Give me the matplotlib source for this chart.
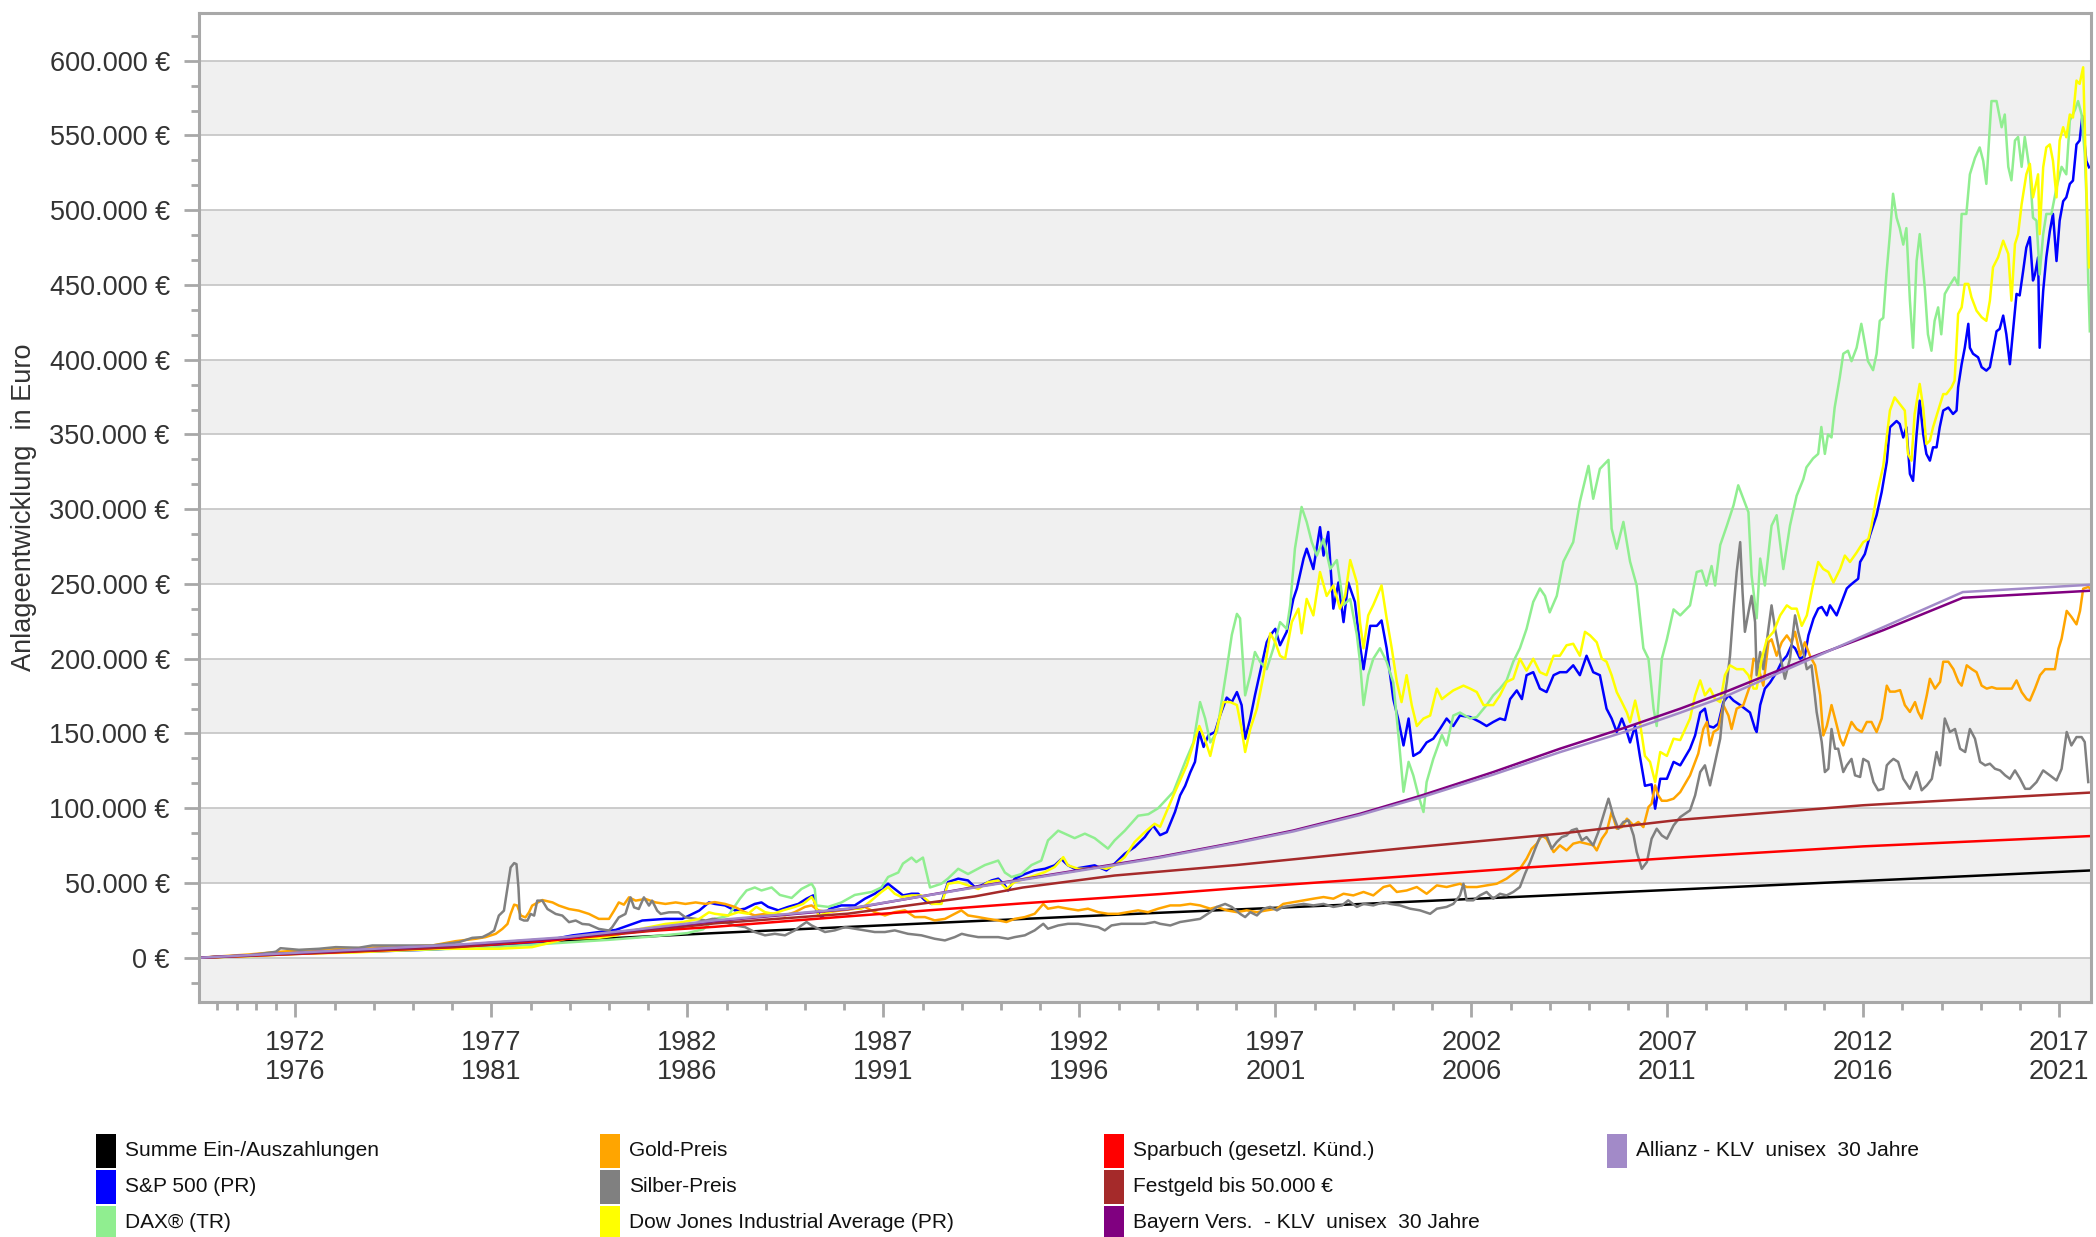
import numpy as np
import matplotlib
matplotlib.use("Agg")
import matplotlib.pyplot as plt
from matplotlib.patches import Rectangle
from matplotlib.ticker import FixedLocator, FuncFormatter, MultipleLocator

plt.rcParams['font.family'] = ['Liberation Sans', 'DejaVu Sans']

# ---------------- data (year, value in thousand EUR) ----------------
summe = [(1969.54, 0), (1976.17, 8.0), (1982.7, 16.5), (1989.33, 24.5), (1994.06, 30.1),
         (1997.63, 34.1), (2007.33, 45.7), (2017.81, 58.4)]

sparbuch = [(1969.54, 0), (1973.0, 3.5), (1976.17, 7.2), (1978.5, 11.5), (1981.05, 17.9),
            (1982.7, 20.7), (1986.0, 27.5), (1990.56, 36.4), (1994.06, 42.6), (1996.0, 46.5),
            (2000.18, 54.2), (2003.5, 60.5), (2007.33, 67.1), (2012.0, 74.5), (2017.81, 81.4)]

festgeld = [(1969.54, 0), (1973.0, 3.8), (1976.17, 7.4), (1980.6, 17.1), (1982.7, 23.0),
            (1986.1, 29.5), (1989.33, 41.0), (1990.56, 47.0), (1992.9, 55.0), (1996.0, 62.0),
            (2000.18, 73.0), (2004.26, 83.0), (2007.33, 92.3), (2012.0, 102.0), (2014.34, 105.5),
            (2017.81, 110.5)]

bayern = [(1969.54, 0), (1972.94, 4.4), (1976.17, 8.5), (1978.9, 13.3), (1980.6, 18.2),
          (1982.7, 24.5), (1986.1, 32.5), (1989.33, 47.3), (1992.9, 62.5), (1994.06, 67.5),
          (1995.97, 77.0), (1997.46, 85.1), (1999.16, 96.3), (2000.69, 108.2), (2002.56, 124.2),
          (2004.26, 139.8), (2005.97, 154.3), (2007.33, 166.6), (2008.5, 178.0), (2010.54, 199.6),
          (2012.5, 219.0), (2014.54, 240.8), (2017.81, 245.5)]

allianz = [(1969.54, 0), (1972.94, 4.6), (1976.17, 8.8), (1978.9, 13.8), (1980.6, 18.6),
           (1982.7, 25.0), (1986.1, 32.8), (1989.33, 47.0), (1992.9, 62.0), (1994.06, 67.0),
           (1995.97, 76.5), (1997.46, 84.5), (1999.16, 95.5), (2000.69, 107.0), (2002.56, 122.5),
           (2004.26, 137.5), (2005.97, 151.5), (2007.33, 163.9), (2008.5, 175.0), (2010.54, 198.5),
           (2012.5, 221.0), (2014.54, 244.6), (2017.81, 249.5)]

dax = [(1969.54, 0), (1971.0, 1.5), (1972.5, 3.0), (1974.0, 4.5), (1975.5, 5.5), (1977.0, 7.0),
       (1978.5, 9.5), (1980.0, 12.0), (1981.0, 14.0), (1982.0, 16.5), (1982.4, 19.0),
       (1982.7, 26), (1983.04, 28), (1983.34, 39.5), (1983.51, 45), (1983.72, 47), (1983.89, 45),
       (1984.15, 47), (1984.36, 42), (1984.66, 40), (1984.91, 46), (1985.17, 49.5), (1985.25, 46),
       (1985.29, 35), (1985.59, 34), (1985.93, 37), (1986.27, 42), (1986.7, 44), (1986.95, 47),
       (1987.12, 54), (1987.38, 57), (1987.5, 63), (1987.72, 67), (1987.84, 64), (1988.01, 67),
       (1988.19, 47), (1988.48, 49.5), (1988.65, 53), (1988.91, 59.5), (1989.16, 56), (1989.59, 62),
       (1989.93, 65), (1990.1, 57), (1990.27, 54), (1990.52, 56), (1990.78, 62), (1991.03, 65),
       (1991.2, 78.5), (1991.46, 85), (1991.71, 82), (1991.88, 80), (1992.14, 83), (1992.39, 80),
       (1992.73, 73), (1992.9, 78.5), (1993.16, 85), (1993.5, 95), (1993.76, 96), (1994.01, 100),
       (1994.4, 111), (1994.7, 131), (1994.91, 144), (1995.08, 171), (1995.21, 160), (1995.34, 144),
       (1995.51, 151), (1995.76, 193), (1995.89, 216), (1996.02, 230), (1996.1, 227), (1996.23, 175.5),
       (1996.36, 189), (1996.48, 204.5), (1996.61, 198), (1996.78, 193), (1996.95, 207),
       (1997.12, 224.5), (1997.29, 220), (1997.38, 236), (1997.5, 273.6), (1997.67, 301.5),
       (1997.8, 291.5), (1997.93, 278), (1998.06, 269), (1998.23, 280), (1998.4, 260), (1998.57, 266),
       (1998.74, 236), (1998.91, 240), (1999.08, 216), (1999.16, 198), (1999.25, 169), (1999.37, 189),
       (1999.5, 200), (1999.67, 207), (1999.84, 198), (2000.01, 184), (2000.14, 149), (2000.27, 111),
       (2000.4, 131), (2000.52, 122), (2000.65, 108.6), (2000.78, 97.5), (2000.86, 117.5),
       (2001.03, 133), (2001.25, 149), (2001.37, 142), (2001.54, 162), (2001.71, 164), (2001.97, 160),
       (2002.14, 161), (2002.39, 169), (2002.56, 175.5), (2002.73, 180), (2002.9, 185.5),
       (2003.07, 198), (2003.24, 207), (2003.41, 220), (2003.58, 238), (2003.75, 247), (2003.88, 242),
       (2004.0, 231), (2004.18, 242), (2004.35, 265), (2004.6, 278), (2004.77, 305), (2004.99, 329),
       (2005.11, 307), (2005.28, 327), (2005.5, 333), (2005.58, 287), (2005.71, 273.6),
       (2005.88, 291.5), (2006.05, 265), (2006.22, 249), (2006.39, 207), (2006.52, 200),
       (2006.65, 166.6), (2006.73, 155), (2006.86, 200), (2006.99, 213), (2007.16, 233),
       (2007.33, 229), (2007.58, 235.7), (2007.75, 258), (2007.88, 259), (2008.0, 249),
       (2008.13, 262), (2008.22, 249), (2008.35, 276), (2008.52, 289), (2008.69, 302.6),
       (2008.81, 316), (2008.94, 307), (2009.07, 298), (2009.15, 256), (2009.28, 227), (2009.37, 267),
       (2009.49, 249), (2009.66, 289), (2009.79, 296), (2009.96, 260), (2010.13, 289), (2010.3, 309),
       (2010.47, 320), (2010.55, 328), (2010.72, 334), (2010.85, 337), (2010.93, 355), (2011.02, 337),
       (2011.1, 350), (2011.19, 348), (2011.27, 368), (2011.4, 388), (2011.49, 404), (2011.61, 406),
       (2011.7, 399), (2011.83, 408), (2011.95, 424), (2012.0, 417), (2012.12, 399), (2012.25, 393),
       (2012.34, 404), (2012.42, 426), (2012.51, 428), (2012.59, 457), (2012.68, 484), (2012.76, 511),
       (2012.85, 495), (2012.93, 488), (2013.02, 477), (2013.1, 488), (2013.19, 439.5), (2013.27, 408),
       (2013.36, 466), (2013.44, 484), (2013.57, 448), (2013.65, 417), (2013.74, 406), (2013.82, 426),
       (2013.91, 435), (2013.99, 417), (2014.08, 444), (2014.21, 450), (2014.33, 455), (2014.42, 450),
       (2014.51, 497.5), (2014.63, 497.5), (2014.72, 524), (2014.85, 535), (2014.97, 542),
       (2015.06, 533), (2015.14, 517.6), (2015.27, 573), (2015.4, 573), (2015.53, 555.5),
       (2015.61, 564), (2015.7, 529), (2015.78, 520), (2015.87, 546.6), (2015.95, 549), (2016.04, 529),
       (2016.12, 549), (2016.25, 526), (2016.33, 495), (2016.42, 493), (2016.5, 457), (2016.59, 484),
       (2016.67, 497.5), (2016.8, 497.5), (2016.93, 515), (2017.06, 529), (2017.18, 524),
       (2017.27, 560), (2017.4, 567), (2017.48, 573), (2017.57, 564), (2017.65, 537.6),
       (2017.69, 511), (2017.74, 453), (2017.78, 419)]

sp500 = [(1969.54, 0), (1971.0, 1.5), (1972.5, 3.5), (1974.0, 4.2), (1975.5, 5.5), (1977.19, 8.2),
         (1978.0, 9.5), (1979.06, 14.9), (1980.17, 18.6), (1980.85, 24.9), (1981.44, 26),
         (1981.87, 26), (1982.3, 31.5), (1982.55, 37), (1982.7, 36), (1982.96, 35), (1983.21, 31.7),
         (1983.47, 32.8), (1983.72, 36), (1983.89, 37), (1984.06, 34), (1984.32, 31.7), (1984.57, 34),
         (1984.83, 36), (1985.04, 39.5), (1985.21, 41.7), (1985.29, 31.7), (1985.42, 27),
         (1985.63, 32.8), (1985.93, 35), (1986.27, 35), (1986.53, 39.5), (1986.78, 42.8),
         (1986.95, 46), (1987.12, 49.5), (1987.29, 46), (1987.5, 41.7), (1987.72, 42.8),
         (1987.89, 42.8), (1988.06, 38.4), (1988.23, 36), (1988.48, 37), (1988.65, 50.6),
         (1988.91, 52.9), (1989.16, 51.7), (1989.33, 47.3), (1989.5, 48.4), (1989.76, 51.7),
         (1989.93, 52.9), (1990.1, 48.4), (1990.18, 45), (1990.35, 52.9), (1990.61, 56),
         (1990.86, 58.4), (1991.12, 59.5), (1991.37, 61.8), (1991.54, 66), (1991.71, 61.8),
         (1991.88, 59.5), (1992.14, 60.7), (1992.39, 61.8), (1992.69, 58.4), (1992.9, 62.9),
         (1993.16, 69.6), (1993.41, 74), (1993.67, 80.7), (1993.88, 88.5), (1994.06, 82),
         (1994.23, 84), (1994.44, 97.5), (1994.57, 108.6), (1994.7, 115), (1994.83, 124),
         (1994.95, 131), (1995.06, 151), (1995.17, 141), (1995.29, 148.7), (1995.46, 151),
         (1995.59, 162), (1995.76, 174), (1995.89, 171), (1996.02, 177.7), (1996.14, 169),
         (1996.23, 146.5), (1996.36, 160), (1996.48, 175.5), (1996.61, 191), (1996.78, 211),
         (1996.87, 215.6), (1997.0, 220), (1997.12, 209), (1997.29, 218), (1997.46, 240),
         (1997.55, 247), (1997.72, 267), (1997.8, 273.6), (1997.97, 260), (1998.14, 288),
         (1998.23, 269), (1998.35, 284.8), (1998.48, 233.5), (1998.61, 251), (1998.74, 224.5),
         (1998.86, 251), (1999.03, 238), (1999.16, 209), (1999.25, 193), (1999.42, 222),
         (1999.59, 222), (1999.71, 225.6), (1999.84, 207), (2000.01, 173), (2000.14, 159),
         (2000.27, 142), (2000.4, 160), (2000.52, 135), (2000.69, 137.6), (2000.86, 144),
         (2001.03, 146.5), (2001.2, 153), (2001.37, 160), (2001.54, 155), (2001.71, 162),
         (2001.97, 161), (2002.22, 157.7), (2002.39, 155), (2002.56, 157.7), (2002.73, 160),
         (2002.86, 159), (2002.99, 173), (2003.16, 178.8), (2003.29, 173), (2003.41, 189),
         (2003.58, 191), (2003.75, 180), (2003.92, 177.7), (2004.1, 189), (2004.26, 191),
         (2004.43, 191), (2004.6, 195.6), (2004.77, 189), (2004.94, 202), (2005.11, 191),
         (2005.28, 189), (2005.45, 166.6), (2005.58, 160), (2005.71, 151), (2005.84, 160),
         (2005.97, 151), (2006.05, 144), (2006.18, 155), (2006.3, 135), (2006.43, 115), (2006.6, 116),
         (2006.69, 99.7), (2006.82, 119.7), (2006.99, 119.7), (2007.16, 131), (2007.33, 128.7),
         (2007.58, 139.8), (2007.71, 148.7), (2007.84, 164), (2007.96, 166.6), (2008.05, 155),
         (2008.18, 154), (2008.3, 156.5), (2008.43, 171), (2008.56, 175.5), (2008.69, 172),
         (2008.86, 169), (2008.98, 166.6), (2009.11, 164), (2009.24, 153), (2009.28, 151),
         (2009.37, 169), (2009.49, 180), (2009.62, 184), (2009.79, 191), (2009.92, 198),
         (2010.05, 202), (2010.17, 209), (2010.26, 207), (2010.39, 200), (2010.51, 202),
         (2010.6, 215.6), (2010.73, 226.8), (2010.85, 233.5), (2010.94, 234.6), (2011.07, 229),
         (2011.15, 235.7), (2011.32, 229), (2011.45, 238), (2011.58, 247), (2011.66, 249),
         (2011.75, 251), (2011.87, 253.5), (2011.92, 264.7), (2012.04, 270), (2012.17, 282.5),
         (2012.34, 296), (2012.47, 311.5), (2012.6, 331.6), (2012.68, 354.8), (2012.85, 359),
         (2012.93, 357), (2013.02, 348), (2013.1, 354.8), (2013.19, 323.6), (2013.27, 319),
         (2013.36, 350), (2013.44, 372.6), (2013.53, 350), (2013.61, 337), (2013.7, 332.5),
         (2013.78, 341.4), (2013.87, 341.4), (2013.95, 354.8), (2014.04, 366), (2014.17, 368),
         (2014.29, 363.7), (2014.38, 366), (2014.42, 381.5), (2014.51, 397), (2014.59, 408),
         (2014.68, 424), (2014.72, 408), (2014.8, 404), (2014.93, 401.6), (2015.02, 395),
         (2015.14, 392.7), (2015.23, 395), (2015.31, 406), (2015.4, 419), (2015.48, 420.6),
         (2015.57, 429.5), (2015.65, 417), (2015.74, 397), (2015.82, 419), (2015.91, 444),
         (2015.99, 443), (2016.08, 459.6), (2016.16, 475), (2016.25, 482), (2016.33, 453),
         (2016.38, 457), (2016.46, 468.5), (2016.5, 408), (2016.59, 446), (2016.67, 468.5),
         (2016.76, 486), (2016.84, 497.5), (2016.93, 466), (2017.01, 493), (2017.1, 506),
         (2017.18, 508.6), (2017.27, 517.6), (2017.35, 519.8), (2017.44, 544), (2017.52, 546.6),
         (2017.59, 563), (2017.65, 544), (2017.69, 533), (2017.76, 528.7)]

dow = [(1969.54, 0), (1971.0, 1.2), (1972.09, 2.7), (1973.5, 3.5), (1974.64, 4.9), (1975.66, 6.0),
       (1977.19, 6.0), (1978.04, 7.1), (1978.9, 12.7), (1979.74, 13.3), (1980.17, 14.9),
       (1980.6, 18.2), (1981.44, 22.6), (1981.87, 23.8), (1982.3, 26), (1982.55, 30.4),
       (1982.7, 29.4), (1983.04, 28.3), (1983.3, 30.5), (1983.55, 29.4), (1983.76, 34),
       (1983.98, 30.5), (1984.19, 29.4), (1984.44, 31.7), (1984.74, 34), (1984.95, 36),
       (1985.17, 40.6), (1985.25, 37), (1985.34, 28.3), (1985.51, 29.4), (1985.76, 31.7),
       (1986.1, 32.8), (1986.44, 32.8), (1986.7, 38.4), (1986.95, 44), (1987.12, 47.3),
       (1987.29, 42.8), (1987.46, 40.6), (1987.72, 41.7), (1987.97, 41.7), (1988.23, 36),
       (1988.48, 36), (1988.65, 49.5), (1988.91, 50.6), (1989.16, 48.4), (1989.42, 46),
       (1989.67, 50.6), (1989.93, 51.7), (1990.14, 46), (1990.35, 50.6), (1990.61, 52.9),
       (1990.86, 55), (1991.12, 57.3), (1991.37, 60.7), (1991.59, 67.3), (1991.71, 61.8),
       (1991.97, 59.5), (1992.22, 59.5), (1992.48, 60.7), (1992.69, 59.5), (1992.9, 61.8),
       (1993.16, 67.3), (1993.41, 77.4), (1993.67, 84), (1993.92, 89.6), (1994.06, 87.6),
       (1994.4, 108.6), (1994.74, 128.7), (1994.95, 146.5), (1995.06, 155), (1995.21, 145.6),
       (1995.34, 135), (1995.46, 148.7), (1995.68, 171), (1995.85, 171), (1996.02, 169),
       (1996.14, 153), (1996.23, 137.6), (1996.36, 153), (1996.53, 166.6), (1996.7, 189),
       (1996.87, 217), (1997.0, 211), (1997.12, 202), (1997.25, 200), (1997.42, 224.5),
       (1997.59, 233.5), (1997.67, 217), (1997.8, 240), (1997.97, 229), (1998.14, 258),
       (1998.31, 242), (1998.48, 249), (1998.65, 233.5), (1998.78, 242), (1998.91, 266),
       (1999.08, 251), (1999.16, 224.5), (1999.25, 207), (1999.37, 229), (1999.5, 236),
       (1999.71, 249), (1999.84, 227), (1999.97, 207), (2000.1, 184.5), (2000.22, 171),
       (2000.35, 189), (2000.48, 169), (2000.61, 155), (2000.78, 160), (2000.95, 162),
       (2001.12, 180), (2001.25, 173), (2001.37, 175.5), (2001.54, 178.8), (2001.8, 182),
       (2001.97, 180), (2002.14, 177.7), (2002.31, 169), (2002.56, 169), (2002.73, 175.5),
       (2002.9, 184.5), (2003.07, 186.6), (2003.24, 200), (2003.41, 192), (2003.58, 200),
       (2003.75, 191), (2003.92, 189), (2004.1, 202), (2004.26, 202), (2004.43, 209),
       (2004.6, 210), (2004.77, 202), (2004.9, 218), (2005.03, 215.6), (2005.2, 211),
       (2005.33, 200), (2005.45, 198), (2005.58, 189), (2005.71, 177.7), (2005.84, 171),
       (2005.97, 164), (2006.05, 157.7), (2006.18, 172), (2006.3, 157.7), (2006.43, 135),
       (2006.56, 131), (2006.69, 117.5), (2006.82, 137.6), (2006.99, 135), (2007.16, 146.5),
       (2007.33, 145.6), (2007.58, 160), (2007.71, 175.5), (2007.84, 185.5), (2007.96, 175.5),
       (2008.09, 180), (2008.22, 173), (2008.35, 171), (2008.47, 189), (2008.6, 195.6),
       (2008.77, 193), (2008.94, 193), (2009.07, 189), (2009.2, 180), (2009.28, 180),
       (2009.41, 200), (2009.54, 213), (2009.71, 218), (2009.88, 229), (2010.05, 235.7),
       (2010.17, 233.5), (2010.3, 233.5), (2010.43, 222), (2010.56, 229), (2010.73, 251),
       (2010.85, 264.7), (2010.98, 260), (2011.11, 258), (2011.24, 251), (2011.41, 260),
       (2011.53, 269), (2011.66, 264.7), (2011.83, 271), (2012.0, 278), (2012.13, 280),
       (2012.21, 289), (2012.34, 309), (2012.51, 329), (2012.68, 366), (2012.8, 374.8),
       (2012.93, 370.4), (2013.06, 366), (2013.14, 337), (2013.23, 332.5), (2013.31, 363.7),
       (2013.44, 383.8), (2013.53, 368), (2013.61, 343.6), (2013.7, 345.9), (2013.78, 354.8),
       (2013.91, 366), (2014.04, 377), (2014.12, 377), (2014.25, 381.5), (2014.33, 386),
       (2014.42, 430.6), (2014.51, 435), (2014.59, 450.7), (2014.68, 450.7), (2014.76, 441.8),
       (2014.89, 432.8), (2015.02, 428.4), (2015.14, 426), (2015.23, 439.5), (2015.31, 461.8),
       (2015.44, 468.5), (2015.57, 479.6), (2015.7, 470.7), (2015.78, 439.5), (2015.87, 477.4),
       (2015.95, 484), (2016.04, 504), (2016.16, 524), (2016.25, 531), (2016.33, 508.6),
       (2016.46, 524), (2016.5, 484), (2016.59, 528.7), (2016.67, 542), (2016.76, 544),
       (2016.84, 533), (2016.93, 508.6), (2017.01, 546.6), (2017.1, 555.5), (2017.18, 548.8),
       (2017.27, 564), (2017.35, 562), (2017.44, 586.7), (2017.52, 584.5), (2017.61, 595.6),
       (2017.69, 517.6), (2017.76, 461.8)]

gold = [(1969.54, 0), (1970.82, 2.2), (1971.5, 3.8), (1972.09, 4.9), (1973.11, 6.0), (1974.3, 7.1),
        (1975.49, 8.2), (1976.09, 11.1), (1976.6, 12.7), (1976.85, 13.8), (1977.11, 16),
        (1977.28, 19.3), (1977.41, 22.6), (1977.49, 29.3), (1977.58, 35.5), (1977.66, 34.9),
        (1977.75, 28.2), (1977.87, 27), (1977.96, 30.4), (1978.04, 34.9), (1978.3, 38.6),
        (1978.56, 37), (1978.72, 34.9), (1978.98, 32.6), (1979.23, 31.5), (1979.49, 29.3),
        (1979.74, 26), (1980.0, 26), (1980.13, 31.5), (1980.25, 37), (1980.38, 35.5),
        (1980.51, 40.4), (1980.68, 38.2), (1980.93, 39.3), (1981.19, 37), (1981.44, 36),
        (1981.7, 37), (1981.95, 36), (1982.21, 37), (1982.47, 36), (1982.64, 37), (1982.7, 37.2),
        (1982.96, 36), (1983.21, 34), (1983.47, 30.5), (1983.72, 28.3), (1983.98, 29.4),
        (1984.23, 29.4), (1984.49, 28.3), (1984.74, 30.5), (1985.0, 34), (1985.17, 35),
        (1985.34, 31.7), (1985.59, 30.5), (1985.93, 31.7), (1986.27, 32.8), (1986.53, 34),
        (1986.78, 30.5), (1987.04, 28.3), (1987.29, 30.5), (1987.55, 31.7), (1987.8, 27.2),
        (1988.06, 27.2), (1988.31, 25), (1988.57, 26), (1988.82, 29.4), (1988.99, 31.7),
        (1989.16, 28.3), (1989.42, 27.2), (1989.67, 26), (1989.93, 25), (1990.14, 23.9),
        (1990.35, 26), (1990.61, 27.2), (1990.86, 29.4), (1991.08, 36), (1991.2, 32.8),
        (1991.46, 34), (1991.71, 32.8), (1991.97, 31.7), (1992.22, 32.8), (1992.48, 30.5),
        (1992.73, 29.4), (1992.99, 29.4), (1993.24, 30.5), (1993.5, 31.7), (1993.75, 30.5),
        (1994.01, 32.8), (1994.32, 35), (1994.57, 35), (1994.83, 36), (1995.08, 35),
        (1995.34, 32.8), (1995.51, 34), (1995.76, 31.7), (1996.02, 30.5), (1996.27, 31.7),
        (1996.53, 30.5), (1996.78, 31.7), (1997.04, 32.8), (1997.2, 36), (1997.46, 37.2),
        (1997.72, 38.4), (1997.97, 39.5), (1998.23, 40.6), (1998.48, 39.5), (1998.74, 42.8),
        (1998.99, 41.7), (1999.25, 44), (1999.5, 41.7), (1999.76, 47.3), (1999.93, 48.4),
        (2000.1, 44), (2000.35, 45), (2000.61, 47.3), (2000.86, 42.8), (2001.12, 48.4),
        (2001.37, 47.3), (2001.54, 48.4), (2001.71, 49.5), (2001.88, 47.3), (2002.14, 47.3),
        (2002.39, 48.4), (2002.65, 49.5), (2002.9, 52.9), (2003.07, 56.2), (2003.24, 59.5),
        (2003.41, 66.2), (2003.54, 72.9), (2003.67, 76.3), (2003.8, 81.8), (2003.92, 79.6),
        (2004.1, 70.7), (2004.26, 75.2), (2004.43, 71.8), (2004.6, 76.3), (2004.77, 77.4),
        (2004.94, 76.3), (2005.11, 75.2), (2005.2, 71.8), (2005.33, 79.6), (2005.45, 84),
        (2005.58, 97.5), (2005.71, 86.3), (2005.84, 87.4), (2005.97, 93), (2006.14, 88.5),
        (2006.26, 90.8), (2006.39, 87.4), (2006.52, 100.8), (2006.6, 103), (2006.69, 115.3),
        (2006.77, 108.6), (2006.86, 105), (2006.99, 105), (2007.16, 106.4), (2007.33, 110.8),
        (2007.58, 122), (2007.71, 131), (2007.79, 136.5), (2007.92, 153), (2008.01, 157.7),
        (2008.09, 142), (2008.18, 151), (2008.3, 153), (2008.43, 169), (2008.56, 162),
        (2008.64, 153), (2008.77, 166.6), (2008.94, 169), (2009.11, 182), (2009.2, 200),
        (2009.28, 198), (2009.45, 182), (2009.58, 211), (2009.66, 213), (2009.79, 202),
        (2009.92, 211), (2010.05, 215.6), (2010.17, 211), (2010.26, 218), (2010.39, 202),
        (2010.51, 211), (2010.64, 202), (2010.77, 195.6), (2010.9, 175.5), (2010.98, 148.7),
        (2011.07, 155), (2011.19, 169), (2011.28, 160), (2011.41, 146.5), (2011.49, 142),
        (2011.58, 148.7), (2011.7, 157.7), (2011.83, 153), (2011.96, 151), (2012.09, 157.7),
        (2012.21, 157.7), (2012.34, 151), (2012.47, 160), (2012.6, 182), (2012.68, 178),
        (2012.81, 178), (2012.94, 179), (2013.06, 169), (2013.19, 164.4), (2013.32, 171),
        (2013.4, 164.4), (2013.49, 160), (2013.62, 175.5), (2013.7, 186.6), (2013.83, 180),
        (2013.96, 184.5), (2014.04, 198), (2014.17, 198), (2014.3, 193), (2014.43, 184.5),
        (2014.51, 182), (2014.64, 195.6), (2014.77, 193), (2014.89, 191), (2015.02, 182),
        (2015.15, 180), (2015.28, 181), (2015.4, 180), (2015.53, 180), (2015.66, 180),
        (2015.79, 180), (2015.91, 185.5), (2016.04, 177.7), (2016.17, 173), (2016.25, 172),
        (2016.38, 180), (2016.51, 189), (2016.64, 193), (2016.76, 193), (2016.89, 193),
        (2016.98, 206.7), (2017.06, 213.4), (2017.19, 232), (2017.31, 228), (2017.44, 223),
        (2017.53, 232), (2017.61, 246.8), (2017.74, 248), (2017.8, 246.8)]

silber = [(1969.54, 0), (1970.82, 1.6), (1971.5, 4.0), (1971.62, 6.4), (1972.09, 5.3), (1972.6, 6.0),
          (1973.03, 7.1), (1973.62, 6.7), (1973.96, 8.2), (1974.64, 8.2), (1975.49, 8.2),
          (1976.17, 10.4), (1976.51, 13.3), (1976.77, 13.8), (1976.94, 16), (1977.07, 18.2),
          (1977.19, 28.2), (1977.32, 31.5), (1977.41, 47), (1977.49, 60.4), (1977.58, 63.3),
          (1977.64, 62.6), (1977.69, 47), (1977.73, 26), (1977.83, 24.9), (1977.92, 24.9),
          (1978.0, 29.3), (1978.09, 28.2), (1978.17, 38.2), (1978.3, 38.2), (1978.43, 32.6),
          (1978.64, 29.3), (1978.81, 28.2), (1978.98, 23.8), (1979.15, 24.9), (1979.32, 22.6),
          (1979.49, 22.2), (1979.74, 19.3), (1980.0, 18.2), (1980.08, 20.4), (1980.25, 27),
          (1980.42, 29.3), (1980.55, 40.4), (1980.64, 33.7), (1980.76, 32.6), (1980.89, 40.4),
          (1981.02, 34.9), (1981.1, 38.2), (1981.23, 31.5), (1981.32, 29.3), (1981.53, 30.4),
          (1981.78, 30.4), (1981.95, 27), (1982.21, 26), (1982.47, 24.9), (1982.64, 26),
          (1982.7, 26), (1982.96, 23.9), (1983.21, 21.6), (1983.47, 20.5), (1983.72, 17.2),
          (1983.98, 15), (1984.23, 16), (1984.49, 15), (1984.74, 18.3), (1984.91, 21.6),
          (1985.04, 23.9), (1985.17, 21.6), (1985.34, 19.4), (1985.51, 17.2), (1985.76, 18.3),
          (1986.02, 20.5), (1986.27, 19.4), (1986.53, 18.3), (1986.78, 17.2), (1987.04, 17.2),
          (1987.29, 18.3), (1987.63, 16), (1987.97, 15), (1988.31, 12.7), (1988.57, 11.6),
          (1988.82, 13.8), (1989.0, 16), (1989.16, 15), (1989.42, 13.8), (1989.67, 13.8),
          (1989.93, 13.8), (1990.18, 12.7), (1990.35, 13.8), (1990.61, 15), (1990.86, 18.3),
          (1991.08, 22.7), (1991.2, 19.4), (1991.46, 21.6), (1991.71, 22.7), (1991.97, 22.7),
          (1992.22, 21.6), (1992.48, 20.5), (1992.65, 18.3), (1992.82, 21.6), (1993.07, 22.7),
          (1993.41, 22.7), (1993.67, 22.7), (1993.92, 23.9), (1994.06, 22.7), (1994.32, 21.6),
          (1994.57, 23.9), (1994.83, 25), (1995.08, 26), (1995.34, 30.5), (1995.51, 34),
          (1995.72, 36), (1995.89, 34), (1996.1, 29.4), (1996.23, 27.2), (1996.36, 30.5),
          (1996.53, 28.3), (1996.7, 32.8), (1996.87, 34), (1997.04, 31.7), (1997.2, 34),
          (1997.46, 35), (1997.72, 36), (1997.97, 35), (1998.23, 36), (1998.48, 34), (1998.7, 35),
          (1998.86, 38.4), (1999.08, 34), (1999.25, 36), (1999.5, 35), (1999.76, 37.2),
          (1999.93, 36), (2000.18, 35), (2000.44, 32.8), (2000.69, 31.7), (2000.95, 29.4),
          (2001.12, 32.8), (2001.37, 34), (2001.54, 36), (2001.71, 41.7), (2001.8, 49.5),
          (2001.88, 38.4), (2002.05, 38.4), (2002.22, 41.7), (2002.39, 44), (2002.56, 39.5),
          (2002.73, 42.8), (2002.9, 41.7), (2003.07, 44), (2003.24, 47.3), (2003.37, 56.2),
          (2003.5, 64), (2003.63, 72.9), (2003.75, 80.7), (2003.92, 81.8), (2004.05, 72.9),
          (2004.18, 77.4), (2004.31, 80.7), (2004.43, 81.8), (2004.56, 85.2), (2004.69, 86.3),
          (2004.82, 78.5), (2004.94, 80.7), (2005.11, 75.2), (2005.24, 84), (2005.37, 95.2),
          (2005.5, 106.4), (2005.62, 95.2), (2005.75, 86.3), (2005.88, 90.8), (2006.01, 91.9),
          (2006.14, 81.8), (2006.22, 70.7), (2006.35, 59.5), (2006.48, 64), (2006.6, 79.6),
          (2006.73, 86.3), (2006.86, 81.8), (2006.99, 79.6), (2007.16, 88.5), (2007.33, 94.1),
          (2007.58, 98.6), (2007.71, 108.6), (2007.84, 124.2), (2007.96, 128.7), (2008.09, 115.3),
          (2008.22, 131), (2008.35, 146.5), (2008.43, 169), (2008.52, 184.5), (2008.6, 202),
          (2008.69, 233.5), (2008.77, 258), (2008.86, 278), (2008.92, 244.6), (2008.98, 218),
          (2009.07, 231), (2009.15, 242), (2009.24, 224.5), (2009.28, 189), (2009.37, 204.5),
          (2009.45, 193), (2009.58, 220), (2009.66, 235.7), (2009.75, 220), (2009.88, 202),
          (2010.0, 186.6), (2010.13, 200), (2010.26, 229), (2010.34, 218), (2010.47, 204.5),
          (2010.56, 193), (2010.68, 195.6), (2010.81, 164.4), (2010.94, 144.3), (2011.02, 124.2),
          (2011.11, 126.4), (2011.19, 153), (2011.28, 139.8), (2011.36, 139.8), (2011.49, 124.2),
          (2011.58, 128.7), (2011.7, 133), (2011.79, 122), (2011.92, 120.9), (2012.0, 133),
          (2012.13, 131), (2012.26, 117.5), (2012.38, 112), (2012.51, 113), (2012.6, 128.7),
          (2012.68, 131), (2012.77, 133), (2012.89, 131), (2013.02, 119.7), (2013.19, 113),
          (2013.36, 124.2), (2013.49, 112), (2013.62, 115.3), (2013.75, 119.7), (2013.87, 137.6),
          (2013.96, 128.7), (2014.08, 160), (2014.21, 151), (2014.34, 153), (2014.47, 139.8),
          (2014.6, 137.6), (2014.72, 153), (2014.85, 146.5), (2014.98, 131), (2015.11, 128.7),
          (2015.23, 129.8), (2015.36, 126.4), (2015.49, 125.3), (2015.62, 122), (2015.74, 119.7),
          (2015.87, 125.3), (2016.0, 119.7), (2016.13, 113), (2016.25, 113), (2016.42, 117.5),
          (2016.59, 125.3), (2016.76, 122), (2016.93, 118.6), (2017.06, 126.4), (2017.19, 151),
          (2017.31, 142), (2017.44, 147.6), (2017.57, 147.6), (2017.65, 144.3), (2017.74, 117.5)]

tick_years_top = [1972, 1977, 1982, 1987, 1992, 1997, 2002, 2007, 2012, 2017]
tick_years_bottom = [1976, 1981, 1986, 1991, 1996, 2001, 2006, 2011, 2016, 2021]

series = [
    ("Summe Ein-/Auszahlungen", summe, "#000000"),
    ("S&P 500 (PR)", sp500, "#0000ff"),
    ("DAX® (TR)", dax, "#90ee90"),
    ("Gold-Preis", gold, "#ffa500"),
    ("Silber-Preis", silber, "#808080"),
    ("Dow Jones Industrial Average (PR)", dow, "#ffff00"),
    ("Sparbuch (gesetzl. Künd.)", sparbuch, "#ff0000"),
    ("Festgeld bis 50.000 €", festgeld, "#a52a2a"),
    ("Bayern Vers.  - KLV  unisex  30 Jahre", bayern, "#800080"),
    ("Allianz - KLV  unisex  30 Jahre", allianz, "#a28ac8"),
]

# ---------------- figure ----------------
W, H = 2096, 1237
fig = plt.figure(figsize=(W / 100, H / 100), dpi=100)
L, R, T, B = 199, 2091, 13, 1002
ax = fig.add_axes([L / W, 1 - B / H, (R - L) / W, (B - T) / H])

ymin, ymax = -29600, 631900
ax.set_xlim(1969.54, 2017.81)
ax.set_ylim(ymin, ymax)

# alternating bands + grid
for lo in range(-50000, 600001, 100000):
    ax.axhspan(lo, lo + 50000, color="#f0f0f0", zorder=0, lw=0)
for yv in range(0, 600001, 50000):
    ax.axhline(yv, color="#c8c8c8", lw=1.3, zorder=0.5)

for name, data, col in series:
    arr = np.array(data, dtype=float)
    ax.plot(arr[:, 0], arr[:, 1] * 1000, color=col, lw=1.8, zorder=2,
            solid_joinstyle="round")

# axes styling
for sp in ax.spines.values():
    sp.set_color("#a8a8a8")
    sp.set_linewidth(2.2)

ax.yaxis.set_major_locator(MultipleLocator(50000))
ax.yaxis.set_minor_locator(MultipleLocator(50000 / 3))


def euro(v, pos):
    return "{:,.0f} €".format(v).replace(",", ".")


ax.yaxis.set_major_formatter(FuncFormatter(euro))

ax.xaxis.set_major_locator(FixedLocator(tick_years_top))
ax.set_xticklabels([f"{a}\n{b}" for a, b in zip(tick_years_top, tick_years_bottom)],
                   linespacing=1.15)
minor_x = [1970, 1970.5, 1971, 1971.5] + [y for y in range(1973, 2017) if (y - 1972) % 5 != 0]
ax.xaxis.set_minor_locator(FixedLocator(minor_x))

ax.tick_params(axis="both", which="major", length=11, width=2, color="#a8a8a8",
               labelsize=19.5, labelcolor="#333333")
ax.tick_params(axis="both", which="minor", length=6, width=2, color="#a8a8a8")
ax.tick_params(axis="y", which="major", pad=10)
ax.tick_params(axis="x", which="major", pad=9)

fig.text(24 / W, 1 - 507 / H, "Anlageentwicklung  in Euro", rotation=90,
         ha="center", va="center", fontsize=19.5, color="#333333")

# legend (manual, column-major, 4 columns x 3 rows)
col_x = [96, 600, 1104, 1607]
row_top = [1134, 1170, 1206]
for i, (name, data, col) in enumerate(series):
    c, r = divmod(i, 3)
    x0, y0 = col_x[c], row_top[r]
    fig.add_artist(Rectangle((x0 / W, 1 - (y0 + 34) / H), 20 / W, 34 / H,
                             transform=fig.transFigure, facecolor=col, edgecolor="none"))
    fig.text((x0 + 29) / W, 1 - (y0 + 17) / H, name, ha="left", va="center",
             fontsize=15, color="#111111")

fig.savefig("out.png", dpi=100)
